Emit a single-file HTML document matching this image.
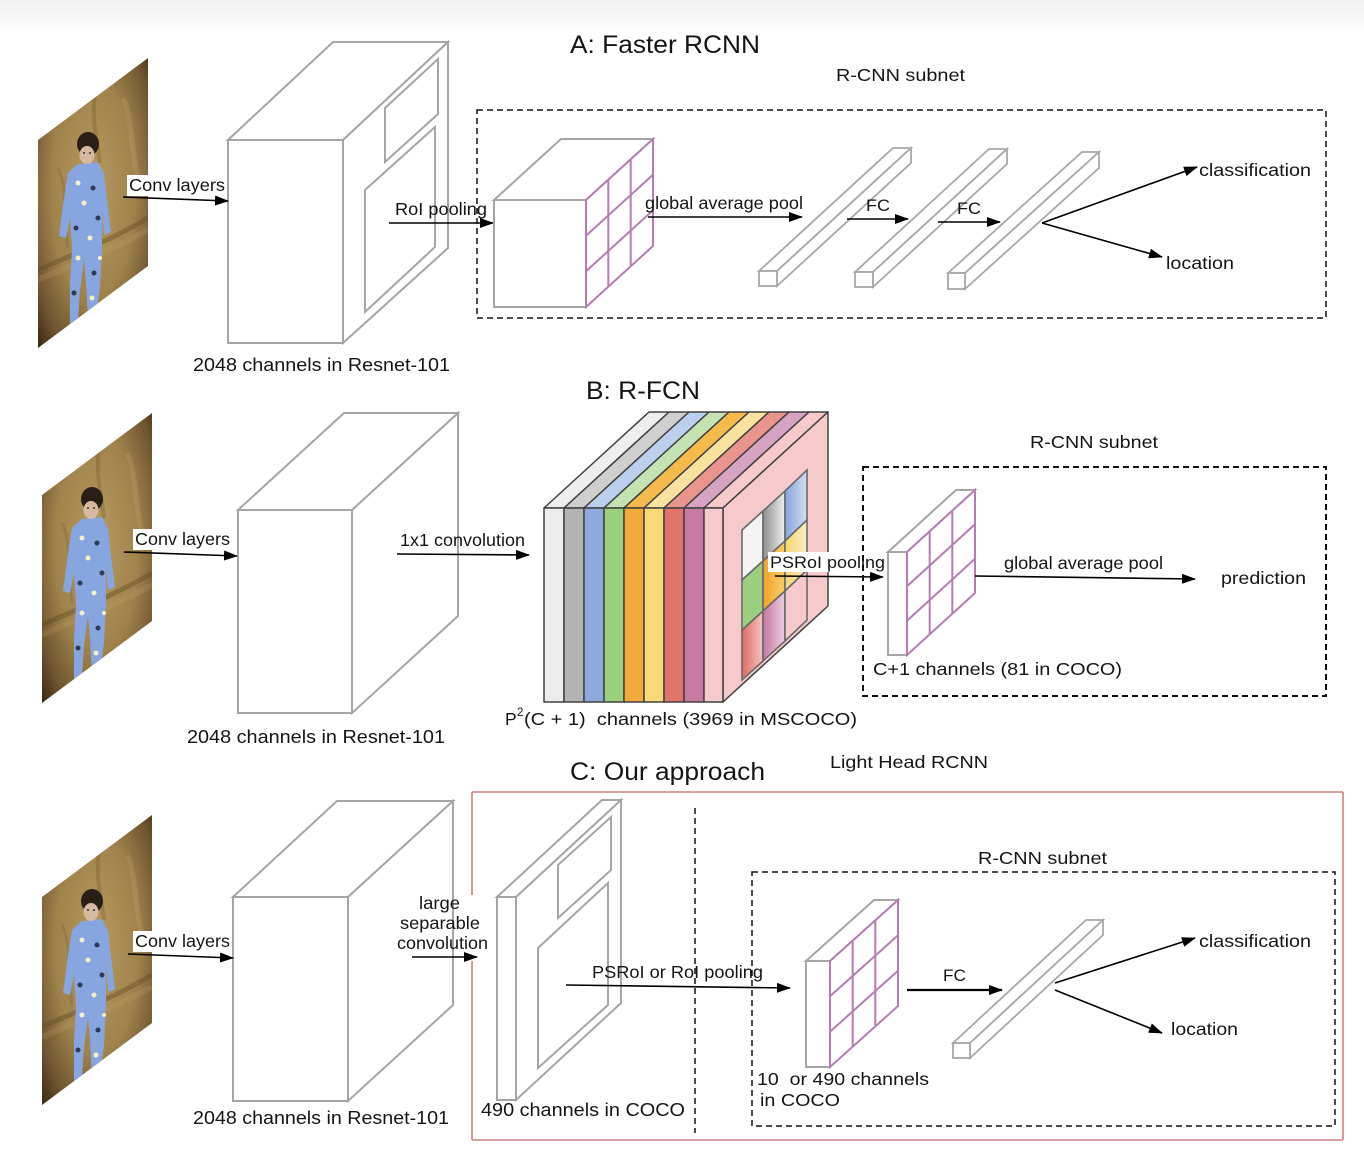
<!DOCTYPE html>
<html>
<head>
<meta charset="utf-8">
<style>
html,body{margin:0;padding:0;background:#fff;}
svg{display:block;}
text{font-family:"Liberation Sans",Arial,sans-serif;fill:#151515;}
</style>
</head>
<body>
<svg width="1364" height="1160" viewBox="0 0 1364 1160" xmlns="http://www.w3.org/2000/svg">
<defs>
  <linearGradient id="topband" x1="0" y1="0" x2="0" y2="1">
    <stop offset="0" stop-color="#f1f1f1"/>
    <stop offset="0.6" stop-color="#f8f8f8"/>
    <stop offset="1" stop-color="#ffffff"/>
  </linearGradient>
  <radialGradient id="sofa" cx="0.5" cy="0.45" r="0.75">
    <stop offset="0" stop-color="#b89a60"/>
    <stop offset="0.5" stop-color="#a0834c"/>
    <stop offset="0.8" stop-color="#6e5430"/>
    <stop offset="1" stop-color="#33240f"/>
  </radialGradient>
  <linearGradient id="grayg" x1="0" y1="0" x2="1" y2="0">
    <stop offset="0" stop-color="#8e8e8e"/><stop offset="1" stop-color="#efefef"/>
  </linearGradient>
  <linearGradient id="blueg" x1="0" y1="0" x2="1" y2="0">
    <stop offset="0" stop-color="#86a4da"/><stop offset="1" stop-color="#d2def2"/>
  </linearGradient>
  <linearGradient id="orangeg" x1="0" y1="0" x2="1" y2="0">
    <stop offset="0" stop-color="#f0a22a"/><stop offset="1" stop-color="#f8cf62"/>
  </linearGradient>
  <linearGradient id="yellowg" x1="0" y1="0" x2="1" y2="0">
    <stop offset="0" stop-color="#f6d673"/><stop offset="1" stop-color="#fbecc0"/>
  </linearGradient>
  <linearGradient id="redg" x1="0" y1="0" x2="1" y2="0">
    <stop offset="0" stop-color="#e06a62"/><stop offset="1" stop-color="#f4c4c4"/>
  </linearGradient>
  <linearGradient id="purg" x1="0" y1="0" x2="1" y2="0">
    <stop offset="0" stop-color="#c476a0"/><stop offset="1" stop-color="#ecd0e0"/>
  </linearGradient>
  <clipPath id="pc"><polygon points="0,82 110,0 110,208 0,290"/></clipPath>
  <marker id="ah" markerWidth="14" markerHeight="10" refX="13" refY="5" orient="auto" markerUnits="userSpaceOnUse">
    <path d="M0,0 L14,5 L0,10 z" fill="#000"/>
  </marker>
  <g id="photo">
    <g clip-path="url(#pc)">
      <rect x="0" y="0" width="110" height="290" fill="url(#sofa)"/>
      <path d="M58,30 C52,60 60,85 62,105" stroke="#6e532a" stroke-width="4" fill="none" opacity="0.3"/>
      <path d="M20,110 C30,130 25,160 30,190" stroke="#6e532a" stroke-width="3" fill="none" opacity="0.25"/>
      <path d="M85,40 C95,60 92,90 100,120" stroke="#d0b680" stroke-width="5" fill="none" opacity="0.2"/>
      <path d="M0,212 C35,196 70,184 110,160" stroke="#5e4522" stroke-width="5" fill="none" opacity="0.4"/>
      <path d="M0,222 C35,206 70,194 110,172" stroke="#c8ab72" stroke-width="6" fill="none" opacity="0.2"/>
      <!-- baby -->
      <path d="M40,106 L60,104 L66,116 L70,150 L73,174 L66,177 L64,152 L64,190 L62,230 L58,258 L50,262 L48,225 L46,202 L42,232 L40,264 L32,266 L32,226 L34,190 L32,160 L28,180 L21,178 L26,140 L30,115 Z" fill="#87a6df"/>
      <circle cx="40" cy="125" r="2.5" fill="#f4f0c8"/>
      <circle cx="55" cy="130" r="2.5" fill="#2e3a55"/>
      <circle cx="46" cy="145" r="2.5" fill="#f4f0c8"/>
      <circle cx="60" cy="160" r="2.5" fill="#2e3a55"/>
      <circle cx="38" cy="170" r="2.5" fill="#2e3a55"/>
      <circle cx="52" cy="180" r="2.5" fill="#f4f0c8"/>
      <circle cx="40" cy="200" r="2.5" fill="#f4f0c8"/>
      <circle cx="56" cy="215" r="2.5" fill="#2e3a55"/>
      <circle cx="36" cy="235" r="2.5" fill="#2e3a55"/>
      <circle cx="54" cy="240" r="2.5" fill="#f4f0c8"/>
      <circle cx="62" cy="200" r="2" fill="#f4f0c8"/>
      <ellipse cx="50" cy="86" rx="11" ry="12" fill="#2a1f17"/>
      <ellipse cx="49" cy="97" rx="7.5" ry="9" fill="#d6b9a0"/>
      <circle cx="46" cy="95" r="1" fill="#333"/>
      <circle cx="52" cy="95" r="1" fill="#333"/>
    </g>
  </g>
</defs>

<!-- top band -->
<rect x="0" y="0" width="1364" height="34" fill="url(#topband)"/>

<!-- ================= A ================= -->
<use href="#photo" x="38" y="58"/>

<text x="570" y="53" font-size="25" textLength="190" lengthAdjust="spacingAndGlyphs">A: Faster RCNN</text>
<text x="836" y="81" font-size="17.5" textLength="129" lengthAdjust="spacingAndGlyphs">R-CNN subnet</text>

<!-- big cube A -->
<g fill="#fff" stroke="#a6a6a6" stroke-width="2" stroke-linejoin="miter">
  <polygon points="228,140 333,42 448,42 343,140"/>
  <polygon points="343,140 448,42 448,248 343,343"/>
  <rect x="228" y="140" width="115" height="203"/>
  <polygon points="385,108 438,59 438,114 385,162"/>
  <polygon points="365,190 435,127 435,247 365,312"/>
</g>

<rect x="127" y="175" width="100" height="21" fill="#fff"/>
<text x="129" y="191" font-size="17.5" textLength="96" lengthAdjust="spacingAndGlyphs">Conv layers</text>
<line x1="123" y1="197" x2="228" y2="201" stroke="#000" stroke-width="1.6" marker-end="url(#ah)"/>

<text x="395" y="215" font-size="17.5" textLength="92" lengthAdjust="spacingAndGlyphs">RoI pooling</text>
<line x1="389" y1="223" x2="493" y2="223" stroke="#000" stroke-width="1.6" marker-end="url(#ah)"/>

<text x="193" y="371" font-size="18" textLength="257" lengthAdjust="spacingAndGlyphs">2048 channels in Resnet-101</text>

<!-- dashed box A -->
<rect x="477" y="110" width="849" height="208" fill="none" stroke="#111" stroke-width="1.5" stroke-dasharray="6,4"/>

<!-- small pooled cube A -->
<g fill="#fff" stroke="#a6a6a6" stroke-width="2">
  <polygon points="494,200 561,139 653,139 586,200"/>
  <rect x="494" y="200" width="92" height="107"/>
</g>
<g fill="none" stroke="#b47fb0" stroke-width="2">
  <polygon points="586,200 653,139 653,246 586,307" fill="#fff"/>
  <line x1="608.3" y1="179.7" x2="608.3" y2="286.7"/>
  <line x1="630.7" y1="159.3" x2="630.7" y2="266.3"/>
  <line x1="586" y1="235.7" x2="653" y2="174.7"/>
  <line x1="586" y1="271.3" x2="653" y2="210.3"/>
</g>

<text x="645" y="209" font-size="17.5" textLength="158" lengthAdjust="spacingAndGlyphs">global average pool</text>
<line x1="648" y1="217" x2="802" y2="217" stroke="#000" stroke-width="1.6" marker-end="url(#ah)"/>

<!-- FC bars A -->
<g fill="#fff" stroke="#a8a8a8" stroke-width="1.8">
  <polygon points="759,271 893,148 911,148 777,271"/>
  <polygon points="777,271 911,148 911,163 777,286"/>
  <rect x="759" y="271" width="18" height="15"/>
  <polygon points="855,272 989,149 1007,149 873,272"/>
  <polygon points="873,272 1007,149 1007,164 873,287"/>
  <rect x="855" y="272" width="18" height="15"/>
  <polygon points="948,273 1082,152 1099,152 965,273"/>
  <polygon points="965,273 1099,152 1099,168 965,289"/>
  <rect x="948" y="273" width="17" height="16"/>
</g>

<text x="866" y="211" font-size="16.5" textLength="24" lengthAdjust="spacingAndGlyphs">FC</text>
<line x1="847" y1="219" x2="908" y2="219" stroke="#000" stroke-width="1.6" marker-end="url(#ah)"/>
<text x="957" y="214" font-size="16.5" textLength="24" lengthAdjust="spacingAndGlyphs">FC</text>
<line x1="938" y1="222" x2="1000" y2="222" stroke="#000" stroke-width="1.6" marker-end="url(#ah)"/>

<line x1="1042" y1="223" x2="1197" y2="167" stroke="#000" stroke-width="1.6" marker-end="url(#ah)"/>
<line x1="1042" y1="223" x2="1162" y2="257" stroke="#000" stroke-width="1.6" marker-end="url(#ah)"/>
<text x="1199" y="176" font-size="17.5" textLength="112" lengthAdjust="spacingAndGlyphs">classification</text>
<text x="1166" y="269" font-size="17.5" textLength="68" lengthAdjust="spacingAndGlyphs">location</text>

<!-- ================= B ================= -->
<use href="#photo" x="42" y="413"/>

<text x="586" y="399" font-size="25" textLength="114" lengthAdjust="spacingAndGlyphs">B: R-FCN</text>
<text x="1030" y="448" font-size="17.5" textLength="128" lengthAdjust="spacingAndGlyphs">R-CNN subnet</text>

<g fill="#fff" stroke="#a6a6a6" stroke-width="2">
  <polygon points="238,510 344,413 458,413 352,510"/>
  <polygon points="352,510 458,413 458,616 352,713"/>
  <rect x="238" y="510" width="114" height="203"/>
</g>

<rect x="133" y="529" width="99" height="21" fill="#fff"/>
<text x="135" y="545" font-size="17.5" textLength="95" lengthAdjust="spacingAndGlyphs">Conv layers</text>
<line x1="124" y1="552" x2="237" y2="556" stroke="#000" stroke-width="1.6" marker-end="url(#ah)"/>

<text x="400" y="546" font-size="17.5" textLength="125" lengthAdjust="spacingAndGlyphs">1x1 convolution</text>
<line x1="397" y1="554" x2="529" y2="555" stroke="#000" stroke-width="1.6" marker-end="url(#ah)"/>

<text x="187" y="743" font-size="18" textLength="258" lengthAdjust="spacingAndGlyphs">2048 channels in Resnet-101</text>

<!-- colored stack -->
<g stroke="#404040" stroke-width="1.5" stroke-linejoin="round">
  <polygon points="544,508 564,508 669,412 649,412" fill="#eeeeee"/>
  <polygon points="564,508 584,508 689,412 669,412" fill="#cfcfcf"/>
  <polygon points="584,508 604,508 709,412 689,412" fill="#bcd0ee"/>
  <polygon points="604,508 624,508 729,412 709,412" fill="#c4e2b2"/>
  <polygon points="624,508 644,508 749,412 729,412" fill="#f4bb4c"/>
  <polygon points="644,508 664,508 769,412 749,412" fill="#f9e2a0"/>
  <polygon points="664,508 684,508 789,412 769,412" fill="#e9948c"/>
  <polygon points="684,508 704,508 809,412 789,412" fill="#d7a3c3"/>
  <polygon points="704,508 723,508 828,412 809,412" fill="#f6caca"/>
  <polygon points="723,508 828,412 828,606 723,702" fill="#f6caca"/>
  <rect x="544" y="508" width="20" height="194" fill="#ececec"/>
  <rect x="564" y="508" width="20" height="194" fill="#b3b3b3"/>
  <rect x="584" y="508" width="20" height="194" fill="#8eaadd"/>
  <rect x="604" y="508" width="20" height="194" fill="#9ccf7e"/>
  <rect x="624" y="508" width="20" height="194" fill="#f2aa3c"/>
  <rect x="644" y="508" width="20" height="194" fill="#f9d879"/>
  <rect x="664" y="508" width="20" height="194" fill="#e0736a"/>
  <rect x="684" y="508" width="20" height="194" fill="#c77ba2"/>
  <rect x="704" y="508" width="19" height="194" fill="#f6caca"/>
</g>
<!-- grid on pink face -->
<g stroke="#6a6a6a" stroke-width="1.6">
  <polygon points="742,530 763,511 763,561 742,580" fill="#f4f4f4"/>
  <polygon points="763,511 785,491 785,541 763,561" fill="url(#grayg)"/>
  <polygon points="785,491 807,470 807,520 785,541" fill="url(#blueg)"/>
  <polygon points="742,580 763,561 763,611 742,630" fill="#9dcf80"/>
  <polygon points="763,561 785,541 785,591 763,611" fill="url(#orangeg)"/>
  <polygon points="785,541 807,520 807,570 785,591" fill="url(#yellowg)"/>
  <polygon points="742,630 763,611 763,661 742,680" fill="url(#redg)"/>
  <polygon points="763,611 785,591 785,641 763,661" fill="url(#purg)"/>
  <polygon points="785,591 807,570 807,620 785,641" fill="#f6caca"/>
</g>

<rect x="768" y="552" width="118" height="20" fill="#fff"/>
<text x="770" y="568" font-size="17" textLength="115" lengthAdjust="spacingAndGlyphs">PSRoI pooling</text>
<line x1="775" y1="576" x2="883" y2="577" stroke="#000" stroke-width="1.6" marker-end="url(#ah)"/>

<text x="505" y="725" font-size="17.5">P</text>
<text x="517" y="716" font-size="11.5">2</text>
<text x="524" y="725" font-size="17.5" textLength="333" lengthAdjust="spacingAndGlyphs">(C + 1) &#160;channels (3969 in MSCOCO)</text>

<!-- dashed box B -->
<rect x="863" y="467" width="463" height="229" fill="none" stroke="#111" stroke-width="2" stroke-dasharray="6,4"/>

<g fill="#fff" stroke="#a6a6a6" stroke-width="2">
  <polygon points="888,552 956,490 975,490 907,552"/>
  <rect x="888" y="552" width="19" height="103"/>
</g>
<g fill="none" stroke="#b47fb0" stroke-width="2">
  <polygon points="907,552 975,490 975,593 907,655" fill="#fff"/>
  <line x1="929.7" y1="531.3" x2="929.7" y2="634.3"/>
  <line x1="952.3" y1="510.7" x2="952.3" y2="613.7"/>
  <line x1="907" y1="586.3" x2="975" y2="524.3"/>
  <line x1="907" y1="620.7" x2="975" y2="558.7"/>
</g>

<text x="1004" y="569" font-size="17.5" textLength="159" lengthAdjust="spacingAndGlyphs">global average pool</text>
<line x1="975" y1="576" x2="1195" y2="579" stroke="#000" stroke-width="1.6" marker-end="url(#ah)"/>
<text x="1221" y="584" font-size="17.5" textLength="85" lengthAdjust="spacingAndGlyphs">prediction</text>
<text x="873" y="675" font-size="17.5" textLength="249" lengthAdjust="spacingAndGlyphs">C+1 channels (81 in COCO)</text>

<!-- ================= C ================= -->
<use href="#photo" x="42" y="815"/>

<text x="570" y="780" font-size="25" textLength="195" lengthAdjust="spacingAndGlyphs">C: Our approach</text>
<text x="830" y="768" font-size="17.5" textLength="158" lengthAdjust="spacingAndGlyphs">Light Head RCNN</text>

<g fill="#fff" stroke="#a6a6a6" stroke-width="2">
  <polygon points="233,897 337,801 453,801 348,897"/>
  <polygon points="348,897 453,801 453,1005 348,1101"/>
  <rect x="233" y="897" width="115" height="204"/>
</g>

<rect x="133" y="931" width="99" height="21" fill="#fff"/>
<text x="135" y="947" font-size="17.5" textLength="95" lengthAdjust="spacingAndGlyphs">Conv layers</text>
<line x1="128" y1="954" x2="233" y2="958" stroke="#000" stroke-width="1.6" marker-end="url(#ah)"/>

<text x="419" y="909" font-size="17.5" textLength="41" lengthAdjust="spacingAndGlyphs">large</text>
<text x="400" y="929" font-size="17.5" textLength="80" lengthAdjust="spacingAndGlyphs">separable</text>
<text x="397" y="949" font-size="17.5" textLength="91" lengthAdjust="spacingAndGlyphs">convolution</text>
<line x1="412" y1="957" x2="477" y2="957" stroke="#000" stroke-width="1.6" marker-end="url(#ah)"/>

<text x="193" y="1124" font-size="18" textLength="256" lengthAdjust="spacingAndGlyphs">2048 channels in Resnet-101</text>

<!-- red box -->
<g stroke="#c98282" stroke-width="1.6" fill="none">
  <line x1="472" y1="792" x2="1343" y2="792"/>
  <line x1="1343" y1="792" x2="1343" y2="1140"/>
  <line x1="472" y1="1140" x2="1343" y2="1140"/>
  <line x1="472" y1="792" x2="472" y2="895"/>
  <line x1="472" y1="961" x2="472" y2="1140"/>
</g>

<!-- 490 slab -->
<g fill="#fff" stroke="#a6a6a6" stroke-width="2">
  <polygon points="497,897 602,800 621,800 516,897"/>
  <polygon points="516,897 621,800 621,1003 516,1100"/>
  <rect x="497" y="897" width="19" height="203"/>
  <polygon points="558,865 611,817 611,870 558,918"/>
  <polygon points="538,948 608,883 608,1005 538,1068"/>
</g>

<line x1="695" y1="808" x2="695" y2="1133" stroke="#111" stroke-width="1.5" stroke-dasharray="6,4"/>

<text x="592" y="978" font-size="17.5" textLength="171" lengthAdjust="spacingAndGlyphs">PSRoI or RoI pooling</text>
<line x1="566" y1="985" x2="790" y2="988" stroke="#000" stroke-width="1.6" marker-end="url(#ah)"/>

<text x="481" y="1116" font-size="18" textLength="204" lengthAdjust="spacingAndGlyphs">490 channels in COCO</text>

<!-- inner dashed box C -->
<rect x="752" y="872" width="583" height="254" fill="none" stroke="#111" stroke-width="1.5" stroke-dasharray="6,4"/>
<text x="978" y="864" font-size="17.5" textLength="129" lengthAdjust="spacingAndGlyphs">R-CNN subnet</text>

<g fill="#fff" stroke="#a6a6a6" stroke-width="2">
  <polygon points="806,961 874,900 898,900 830,961"/>
  <rect x="806" y="961" width="24" height="106"/>
</g>
<g fill="none" stroke="#b47fb0" stroke-width="2">
  <polygon points="830,961 898,900 898,1006 830,1067" fill="#fff"/>
  <line x1="852.7" y1="940.7" x2="852.7" y2="1046.7"/>
  <line x1="875.3" y1="920.3" x2="875.3" y2="1026.3"/>
  <line x1="830" y1="996.3" x2="898" y2="935.3"/>
  <line x1="830" y1="1031.7" x2="898" y2="970.7"/>
</g>

<text x="757" y="1085" font-size="17.5" textLength="172" lengthAdjust="spacingAndGlyphs">10 &#160;or 490 channels</text>
<text x="760" y="1106" font-size="17.5" textLength="80" lengthAdjust="spacingAndGlyphs">in COCO</text>

<text x="943" y="981" font-size="16.5" textLength="23" lengthAdjust="spacingAndGlyphs">FC</text>
<line x1="907" y1="990" x2="1002" y2="990" stroke="#000" stroke-width="2.2" marker-end="url(#ah)"/>

<g fill="#fff" stroke="#a8a8a8" stroke-width="1.8">
  <polygon points="953,1043 1086,920 1103,920 970,1043"/>
  <polygon points="970,1043 1103,920 1103,935 970,1058"/>
  <rect x="953" y="1043" width="17" height="15"/>
</g>

<line x1="1055" y1="983" x2="1195" y2="938" stroke="#000" stroke-width="1.6" marker-end="url(#ah)"/>
<line x1="1055" y1="990" x2="1162" y2="1033" stroke="#000" stroke-width="1.6" marker-end="url(#ah)"/>
<text x="1199" y="947" font-size="17.5" textLength="112" lengthAdjust="spacingAndGlyphs">classification</text>
<text x="1171" y="1035" font-size="17.5" textLength="67" lengthAdjust="spacingAndGlyphs">location</text>

</svg>
</body>
</html>
